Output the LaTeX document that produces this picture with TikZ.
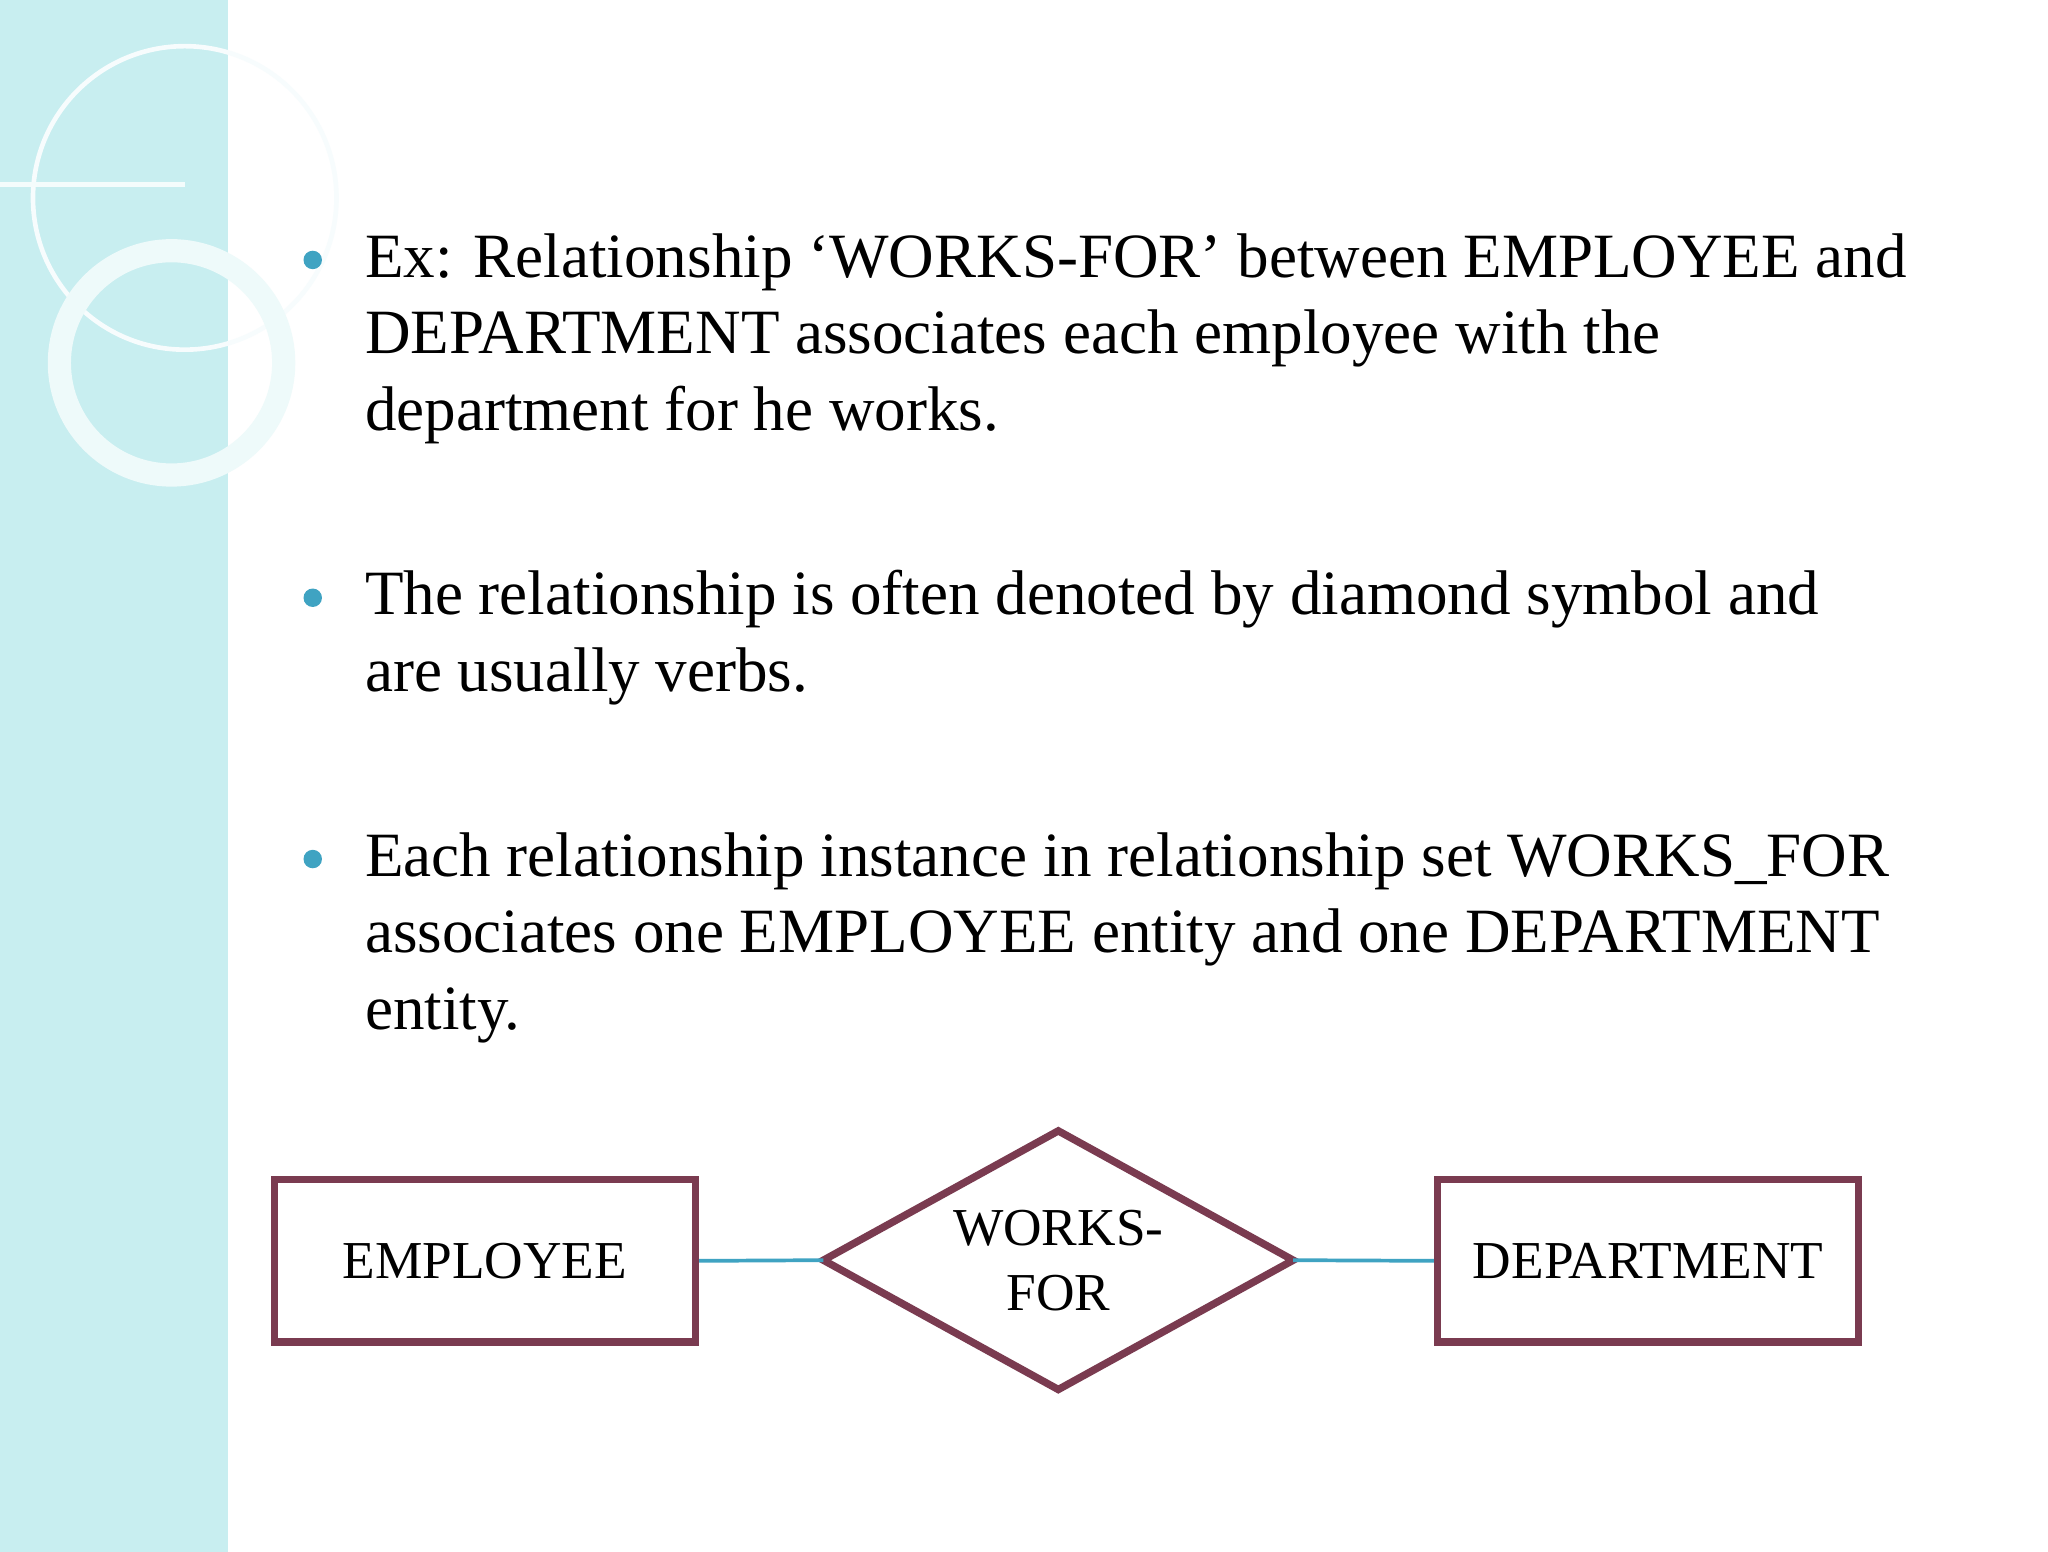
\documentclass[tikz,border=0pt]{standalone}
\usepackage{fontspec}
\setmainfont{Liberation Serif}
\usetikzlibrary{shapes.geometric}
\definecolor{band}{HTML}{C8EEF0}
\definecolor{maroon}{HTML}{7A3B50}
\definecolor{teal}{HTML}{3FA3C2}
\tikzset{txt/.style={anchor=base west,inner sep=0pt,font=\fontsize{13.6}{16}\selectfont},
 ent/.style={draw=maroon,line width=1.6pt,minimum width=3.19cm,minimum height=1.23cm,font=\fontsize{11.5}{14}\selectfont},
 link/.style={draw=teal,line width=0.8pt}}
\begin{document}
\begin{tikzpicture}[x=1cm,y=1cm]
\useasboundingbox (0,0) rectangle (15.52,-11.76);
\fill[white] (0,0) rectangle (15.52,-11.76);
\fill[band] (0,0) rectangle (1.73,-11.76);
\draw[white!85!band,line width=1pt] (1.4,-1.5) circle (1.15);
\draw[white!70!band,line width=5pt] (1.3,-2.75) circle (0.85);
\draw[white!80!band,line width=1pt] (0,-1.4) -- (1.4,-1.4);
\foreach \y in {-1.97,-4.53,-6.51} \fill[teal] (2.37,\y) circle (0.07);
\node[txt] (l1) at (2.76,-2.10) {Ex: Relationship ‘WORKS-FOR’ between EMPLOYEE and};
\node[txt] (l2) at (2.76,-2.68) {DEPARTMENT associates each employee with the};
\node[txt] (l3) at (2.76,-3.26) {department for he works.};
\node[txt] (l4) at (2.76,-4.66) {The relationship is often denoted by diamond symbol and};
\node[txt] (l5) at (2.76,-5.24) {are usually verbs.};
\node[txt] (l6) at (2.76,-6.64) {Each relationship instance in relationship set WORKS\_FOR};
\node[txt] (l7) at (2.76,-7.22) {associates one EMPLOYEE entity and one DEPARTMENT};
\node[txt] (l8) at (2.76,-7.80) {entity.};
\node[ent] (emp) at (3.675,-9.555) {EMPLOYEE};
\node[ent] (dep) at (12.49,-9.555) {DEPARTMENT};
\draw[maroon,line width=1.6pt] (8.02,-8.57) coordinate (dt) -- (9.80,-9.55) coordinate (dr) -- (8.02,-10.53) -- (6.24,-9.55) coordinate (dl) -- cycle;
\node[align=center,font=\fontsize{11.5}{14}\selectfont,inner sep=0pt] (wf) at (8.02,-9.55) {WORKS-\\FOR};
\draw[link] (emp.east) -- (dl);
\draw[link] (dr) -- (dep.west);
\end{tikzpicture}
\end{document}
